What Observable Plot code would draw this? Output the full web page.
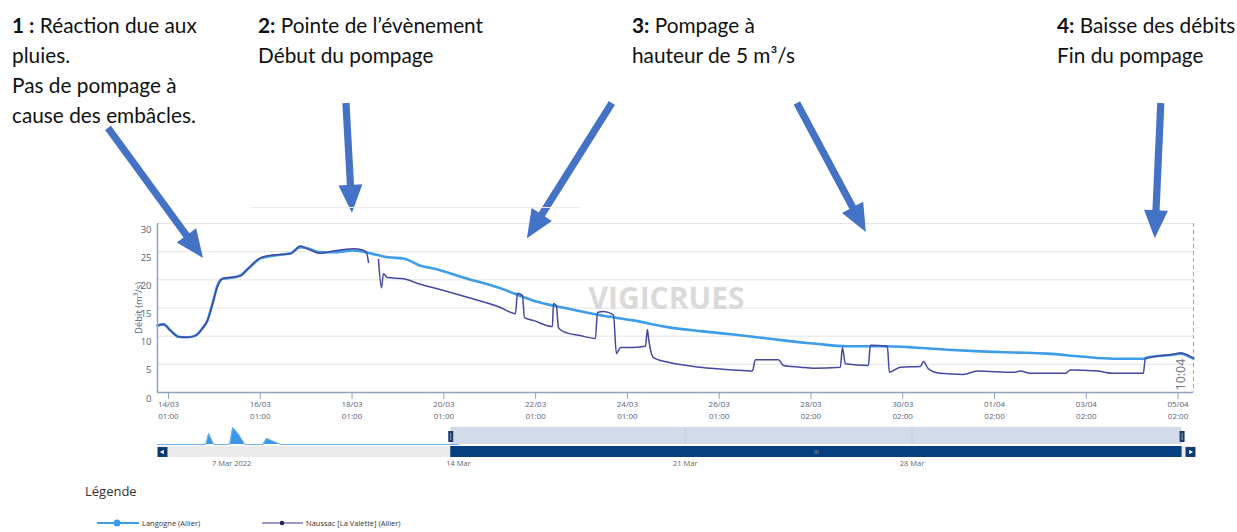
<!DOCTYPE html>
<html><head><meta charset="utf-8">
<script src="https://cdn.jsdelivr.net/npm/d3@7"></script>
<script src="https://cdn.jsdelivr.net/npm/@observablehq/plot@0.6"></script>
<style>
html,body{margin:0;padding:0;background:#fff;}
#root{position:relative;width:1237px;height:532px;overflow:hidden;font-family:"Open Sans",sans-serif;background:#fff;}
.note{position:absolute;top:10px;font-family:Lato,"Open Sans",sans-serif;font-size:20.8px;line-height:30px;color:#111;white-space:nowrap;z-index:3;}
.note b{font-weight:700;}
.abs{position:absolute;}
.leg{position:absolute;display:flex;align-items:center;font-size:7.5px;color:#333;white-space:nowrap;}
.leg svg{margin-right:3px;}
</style></head>
<body><div id="root"></div>
<script>
// ---------------- data ----------------
const langogne = [
  ["2022-03-13T18:15Z",11.9],["2022-03-13T21:23Z",12.1],["2022-03-14T01:03Z",11.0],["2022-03-14T05:14Z",9.9],
  ["2022-03-14T09:56Z",9.8],["2022-03-14T14:07Z",10.1],["2022-03-14T17:47Z",11.4],["2022-03-14T20:23Z",12.8],
  ["2022-03-14T23:00Z",15.8],["2022-03-15T01:37Z",19.0],["2022-03-15T04:14Z",20.2],["2022-03-15T10:00Z",20.4],
  ["2022-03-15T13:39Z",20.8],["2022-03-15T17:50Z",22.0],["2022-03-16T00:06Z",23.8],["2022-03-16T06:54Z",24.3],
  ["2022-03-16T15:47Z",24.7],["2022-03-16T21:01Z",25.8],["2022-03-17T00:41Z",25.6],["2022-03-17T07:29Z",24.9],
  ["2022-03-17T14:17Z",24.9],["2022-03-18T00:44Z",25.2],["2022-03-18T09:38Z",24.7],["2022-03-18T18:31Z",24.0],
  ["2022-03-19T02:53Z",23.8],["2022-03-19T11:46Z",22.5],["2022-03-19T18:34Z",22.0],["2022-03-20T12:20Z",20.2],
  ["2022-03-21T05:36Z",18.5],["2022-03-21T22:51Z",16.3],["2022-03-22T16:38Z",14.9],["2022-03-23T09:54Z",13.7],
  ["2022-03-24T03:09Z",12.8],["2022-03-24T20:55Z",11.6],["2022-03-25T14:11Z",10.9],["2022-03-26T07:26Z",10.3],
  ["2022-03-27T01:13Z",9.6],["2022-03-27T18:28Z",8.9],["2022-03-28T01:16Z",8.7],["2022-03-28T19:03Z",8.2],
  ["2022-03-29T12:18Z",8.2],["2022-03-30T05:34Z",8.0],["2022-03-30T23:20Z",7.6],["2022-03-31T16:35Z",7.3],
  ["2022-04-01T09:51Z",7.1],["2022-04-02T03:38Z",6.9],["2022-04-02T20:53Z",6.4],["2022-04-03T14:08Z",6.0],
  ["2022-04-04T05:50Z",6.0],["2022-04-04T07:55Z",6.2],["2022-04-04T21:30Z",6.7],["2022-04-05T01:12Z",6.9],
  ["2022-04-05T08:00Z",6.0]
];
const naussac = [
  ["2022-03-13T18:15Z",11.9],["2022-03-13T21:23Z",12.1],["2022-03-14T01:03Z",11.0],["2022-03-14T05:14Z",9.9],
  ["2022-03-14T09:56Z",9.8],["2022-03-14T14:07Z",10.1],["2022-03-14T17:47Z",11.4],["2022-03-14T20:23Z",12.8],
  ["2022-03-14T23:00Z",15.6],["2022-03-15T01:37Z",18.8],["2022-03-15T04:14Z",20.2],["2022-03-15T10:00Z",20.5],
  ["2022-03-15T13:39Z",20.7],["2022-03-15T17:50Z",22.1],["2022-03-16T00:06Z",23.9],["2022-03-16T06:54Z",24.4],
  ["2022-03-16T15:47Z",24.6],["2022-03-16T21:01Z",26.0],["2022-03-17T00:41Z",25.5],["2022-03-17T07:29Z",24.7],
  ["2022-03-17T14:17Z",25.1],["2022-03-18T00:44Z",25.5],["2022-03-18T05:26Z",25.3],["2022-03-18T07:32Z",24.9],
  ["2022-03-18T08:35Z",23.1],["2022-03-18T11:00Z",NaN],["2022-03-18T13:49Z",23.6],["2022-03-18T15:23Z",18.6],
  ["2022-03-18T16:26Z",21.1],["2022-03-18T18:31Z",20.4],["2022-03-19T02:53Z",20.2],["2022-03-19T11:46Z",19.2],
  ["2022-03-19T18:34Z",18.6],["2022-03-20T12:20Z",16.9],["2022-03-21T05:36Z",15.1],["2022-03-21T13:27Z",14.0],
  ["2022-03-21T14:30Z",17.6],["2022-03-21T17:07Z",17.2],["2022-03-21T18:10Z",13.3],["2022-03-21T22:51Z",12.8],
  ["2022-03-22T08:48Z",11.7],["2022-03-22T09:19Z",15.8],["2022-03-22T10:53Z",15.4],["2022-03-22T11:56Z",11.5],
  ["2022-03-22T14:33Z",10.8],["2022-03-22T23:26Z",10.1],["2022-03-23T07:17Z",9.6],["2022-03-23T08:20Z",14.2],
  ["2022-03-23T11:28Z",14.4],["2022-03-23T16:42Z",13.8],["2022-03-23T18:16Z",6.9],["2022-03-23T20:22Z",8.0],
  ["2022-03-24T03:09Z",8.0],["2022-03-24T09:25Z",8.2],["2022-03-24T10:28Z",11.2],["2022-03-24T11:00Z",9.8],
  ["2022-03-24T13:37Z",6.2],["2022-03-24T20:55Z",5.4],["2022-03-25T14:11Z",4.5],["2022-03-26T07:26Z",4.0],
  ["2022-03-26T17:22Z",3.8],["2022-03-26T18:56Z",5.8],["2022-03-27T06:58Z",5.8],["2022-03-27T09:35Z",4.8],
  ["2022-03-27T18:28Z",4.5],["2022-03-28T01:16Z",4.3],["2022-03-28T15:23Z",4.5],["2022-03-28T16:26Z",8.0],
  ["2022-03-28T18:00Z",5.1],["2022-03-29T06:02Z",4.8],["2022-03-29T07:05Z",8.4],["2022-03-29T15:58Z",8.2],
  ["2022-03-29T17:01Z",3.6],["2022-03-29T22:46Z",4.5],["2022-03-30T09:14Z",4.6],["2022-03-30T10:48Z",5.5],
  ["2022-03-30T13:25Z",4.2],["2022-03-30T19:41Z",3.4],["2022-03-31T07:42Z",3.2],["2022-03-31T15:01Z",3.8],
  ["2022-04-01T09:51Z",3.6],["2022-04-01T13:31Z",3.8],["2022-04-01T18:45Z",3.4],["2022-04-02T13:02Z",3.4],
  ["2022-04-02T15:39Z",4.0],["2022-04-03T05:47Z",3.8],["2022-04-03T14:08Z",3.4],["2022-04-04T05:50Z",3.4],
  ["2022-04-04T06:52Z",6.0],["2022-04-04T21:30Z",6.8],["2022-04-05T01:12Z",7.0],["2022-04-05T08:00Z",6.1]
];
const navSeries = [
  ["2022-03-04T17:00Z",0],["2022-03-06T04:47Z",0],["2022-03-06T07:00Z",11],["2022-03-06T10:40Z",0],
  ["2022-03-06T22:34Z",0],["2022-03-07T00:43Z",17],["2022-03-07T05:16Z",10],["2022-03-07T09:40Z",0],
  ["2022-03-07T23:00Z",0],["2022-03-08T02:00Z",6],["2022-03-08T07:00Z",3],["2022-03-08T12:15Z",0],
  ["2022-03-14T00:00Z",0]
];
const xTickDates = ["2022-03-14","2022-03-16","2022-03-18","2022-03-20","2022-03-22","2022-03-24","2022-03-26",
                    "2022-03-28","2022-03-30","2022-04-01","2022-04-03","2022-04-05"];
const xTickDays  = ["14/03","16/03","18/03","20/03","22/03","24/03","26/03","28/03","30/03","01/04","03/04","05/04"];
const xTickHours = ["01:00","01:00","01:00","01:00","01:00","01:00","01:00","02:00","02:00","02:00","02:00","02:00"];
const yTicks = [0, 5, 10, 15, 20, 25, 30];
const yLabel = "Débit (m³/s)";
const mainRange = ["2022-03-13T18:15Z", "2022-04-05T08:04Z"];
const nowLabel = "10:04";
const navRange = ["2022-03-04T17:00Z", "2022-04-05T18:00Z"];
const navTickDates = ["2022-03-07","2022-03-14","2022-03-21","2022-03-28"];
const navTickLabels = ["7 Mar 2022","14 Mar","21 Mar","28 Mar"];
const seriesNames = ["Langogne (Allier)", "Naussac [La Valette] (Allier)"];
const legendTitle = "Légende";
const watermark = "VIGICRUES";
const notes = [
  {num: "1 :", lines: ["Réaction due aux", "pluies.", "Pas de pompage à", "cause des embâcles."]},
  {num: "2:", lines: ["Pointe de l’évènement", "Début du pompage"]},
  {num: "3:", lines: ["Pompage à", "hauteur de 5 m³/s"]},
  {num: "4:", lines: ["Baisse des débits", "Fin du pompage"]}
];
// arrows: tail and tip in (date, débit) space
const arrows = [
  {tail: ["2022-03-12T16:37Z", 46.9], tip: ["2022-03-14T18:18Z", 23.8]},
  {tail: ["2022-03-17T21:04Z", 51.3], tip: ["2022-03-18T00:13Z", 31.8]},
  {tail: ["2022-03-23T16:09Z", 51.3], tip: ["2022-03-21T19:42Z", 27.3]},
  {tail: ["2022-03-27T16:54Z", 51.3], tip: ["2022-03-29T04:58Z", 28.4]},
  {tail: ["2022-04-04T15:13Z", 51.3], tip: ["2022-04-04T12:04Z", 27.3]}
];

// ---------------- build ----------------
const D = s => new Date(s);
const rows = arr => arr.map(([t, v]) => ({date: D(t), value: v}));
const lRows = rows(langogne), nRows = rows(naussac), navRows = rows(navSeries);
const mainStart = D(mainRange[0]), mainEnd = D(mainRange[1]);
const navStart = D(navRange[0]), navEnd = D(navRange[1]);
const xTicks = xTickDates.map(D);
const dayMap = new Map(xTicks.map((d, i) => [+d, xTickDays[i]]));
const hourMap = new Map(xTicks.map((d, i) => [+d, xTickHours[i]]));
const navTicks = navTickDates.map(D);
const navMap = new Map(navTicks.map((d, i) => [+d, navTickLabels[i]]));

const cLang = "#3d9de9", cNau = "#44489e", axisColor = "#8fa3c0", labelColor = "#56627a", arrowColor = "#4472c4";
const root = document.getElementById("root");

function arrowMark(index, scales) {
  const g = d3.create("svg:g").attr("fill", arrowColor);
  for (const a of arrows) {
    const x1 = scales.x(D(a.tail[0])), y1 = scales.y(a.tail[1]);
    const x2 = scales.x(D(a.tip[0])), y2 = scales.y(a.tip[1]);
    const dx = x2 - x1, dy = y2 - y1, L = Math.hypot(dx, dy), ux = dx / L, uy = dy / L;
    const hl = 28, hw = 12, sw = 3.6;
    const bx = x2 - ux * hl, by = y2 - uy * hl, px = -uy, py = ux;
    const pts = [[x1 + px*sw, y1 + py*sw], [bx + px*sw, by + py*sw], [bx + px*hw, by + py*hw], [x2, y2],
                 [bx - px*hw, by - py*hw], [bx - px*sw, by - py*sw], [x1 - px*sw, y1 - py*sw]];
    g.append("path").attr("d", "M" + pts.map(p => p.join(",")).join("L") + "Z");
  }
  return g.node();
}

const main = Plot.plot({
  width: 1237, height: 425, marginTop: 223, marginBottom: 33, marginLeft: 157, marginRight: 44,
  style: {background: "transparent", fontFamily: "'Open Sans', sans-serif", color: labelColor, overflow: "visible"},
  x: {type: "utc", domain: [mainStart, mainEnd]},
  y: {domain: [0, 30]},
  marks: [
    Plot.ruleY(yTicks.filter(v => v > 0), {stroke: "#e4e4e4", strokeWidth: 1}),
    Plot.text([watermark], {frameAnchor: "middle", dx: -9, dy: -9, fontSize: 30, fontWeight: 700, fill: "#dadada", fontFamily: "'Open Sans', sans-serif"}),
    Plot.ruleX([mainEnd], {stroke: "#9aa8ba", strokeDasharray: "4,3"}),
    Plot.line(lRows, {x: "date", y: "value", stroke: cLang, strokeWidth: 2.6, curve: "monotone-x"}),
    Plot.line(nRows, {x: "date", y: "value", stroke: cNau, strokeWidth: 1.5, curve: "monotone-x"}),
    Plot.ruleX([mainStart], {stroke: axisColor, strokeWidth: 1.5}),
    Plot.ruleY([0], {stroke: axisColor, strokeWidth: 1.5}),
    Plot.axisX({ticks: xTicks, tickFormat: d => dayMap.get(+d), tickSize: 7, tickPadding: 2, fontSize: 8, stroke: axisColor, label: null}),
    Plot.axisX({ticks: xTicks, tickFormat: d => hourMap.get(+d), tickSize: 0, tickPadding: 21, fontSize: 8, label: null}),
    Plot.axisY({ticks: yTicks, tickSize: 0, tickPadding: 6, dy: 6, fontSize: 9.5, label: yLabel, labelAnchor: "center", labelOffset: 22, labelArrow: false}),
    Plot.text([nowLabel], {frameAnchor: "bottom-right", rotate: -90, textAnchor: "start", dx: -9, dy: -2, fontSize: 12.5, fill: "#6d7480"}),
    arrowMark
  ]
});
main.style.position = "absolute"; main.style.left = "0px"; main.style.top = "0px";
root.appendChild(main);

const band = Plot.plot({
  width: 1237, height: 20, marginTop: 1, marginBottom: 2, marginLeft: 157, marginRight: 42,
  style: {background: "transparent", overflow: "visible"},
  x: {type: "utc", domain: [navStart, navEnd], axis: null},
  y: {domain: [0, 17], axis: null},
  marks: [
    Plot.areaY(navRows, {x: "date", y: "value", fill: "#3c96e6"}),
    Plot.lineY(navRows, {x: "date", y: "value", stroke: "#6fb1ee", strokeWidth: 1}),
    Plot.rect([0], {x1: () => mainStart, x2: () => mainEnd, fill: "#d3dbeb"}),
    Plot.ruleX(navTicks.slice(2), {stroke: "#c2cadb"}),
    Plot.ruleX([mainStart, mainEnd], {y1: 2, y2: 13, stroke: "#1f3a63", strokeWidth: 5}),
    Plot.ruleX([mainStart, mainEnd], {y1: 4, y2: 11, stroke: "#8ea3c6", strokeWidth: 1})
  ]
});
band.style.position = "absolute"; band.style.left = "0px"; band.style.top = "426px";
root.appendChild(band);

const scroll = Plot.plot({
  width: 1237, height: 25, marginTop: 0, marginBottom: 14, marginLeft: 157, marginRight: 42,
  style: {background: "transparent", fontFamily: "'Open Sans', sans-serif", color: "#666", overflow: "visible"},
  x: {type: "utc", domain: [navStart, navEnd]},
  marks: [
    Plot.rect([0], {x1: () => navStart, x2: () => navEnd, fill: "#ebebeb"}),
    Plot.rect([0], {x1: () => mainStart, x2: () => mainEnd, fill: "#073f80"}),
    Plot.dot([navStart], {x: d => d, symbol: "square", r: 5.6, dx: 5, fill: "#0d3a70"}),
    Plot.dot([navEnd], {x: d => d, symbol: "square", r: 5.6, dx: -5, fill: "#0d3a70"}),
    Plot.dot([navStart], {x: d => d, symbol: "triangle", r: 1.6, dx: 5, rotate: -90, fill: "#fff"}),
    Plot.dot([navEnd], {x: d => d, symbol: "triangle", r: 1.6, dx: -5, rotate: 90, fill: "#fff"}),
    Plot.text(["III"], {x: () => new Date((+mainStart + +mainEnd) / 2), fontSize: 6, fill: "#8ea7cc"}),
    Plot.axisX({ticks: navTicks, tickFormat: d => navMap.get(+d), tickSize: 0, tickPadding: 3, fontSize: 7.5, label: null})
  ]
});
scroll.style.position = "absolute"; scroll.style.left = "0px"; scroll.style.top = "446px";
root.appendChild(scroll);

// annotation texts
const noteLefts = [12, 258, 632, 1057];
notes.forEach((n, i) => {
  const div = document.createElement("div");
  div.className = "note";
  div.style.left = noteLefts[i] + "px";
  div.innerHTML = "<b>" + n.num + "</b> " + n.lines.join("<br>");
  root.appendChild(div);
});
// faint separator line
const sep = document.createElement("div");
sep.className = "abs";
Object.assign(sep.style, {left: "250px", top: "207px", width: "330px", height: "1px", background: "#ececec"});
root.appendChild(sep);

// legend
const lt = document.createElement("div");
lt.className = "abs";
Object.assign(lt.style, {left: "85px", top: "482px", fontSize: "13px", color: "#333"});
lt.textContent = legendTitle;
root.appendChild(lt);
const legPos = [{left: 97, top: 518}, {left: 262, top: 518}];
seriesNames.forEach((name, i) => {
  const item = document.createElement("div");
  item.className = "leg";
  item.style.left = legPos[i].left + "px";
  item.style.top = legPos[i].top + "px";
  const sw = i === 0
    ? `<svg width="42" height="10"><line x1="0" y1="5" x2="42" y2="5" stroke="${cLang}" stroke-width="2"/><circle cx="20" cy="5" r="3.5" fill="${cLang}"/></svg>`
    : `<svg width="41" height="10"><line x1="0" y1="5" x2="41" y2="5" stroke="#7b78b8" stroke-width="1.5"/><circle cx="20" cy="5" r="2.2" fill="#1d1d5e"/></svg>`;
  item.innerHTML = sw + "<span>" + name + "</span>";
  root.appendChild(item);
});
</script></body></html>
